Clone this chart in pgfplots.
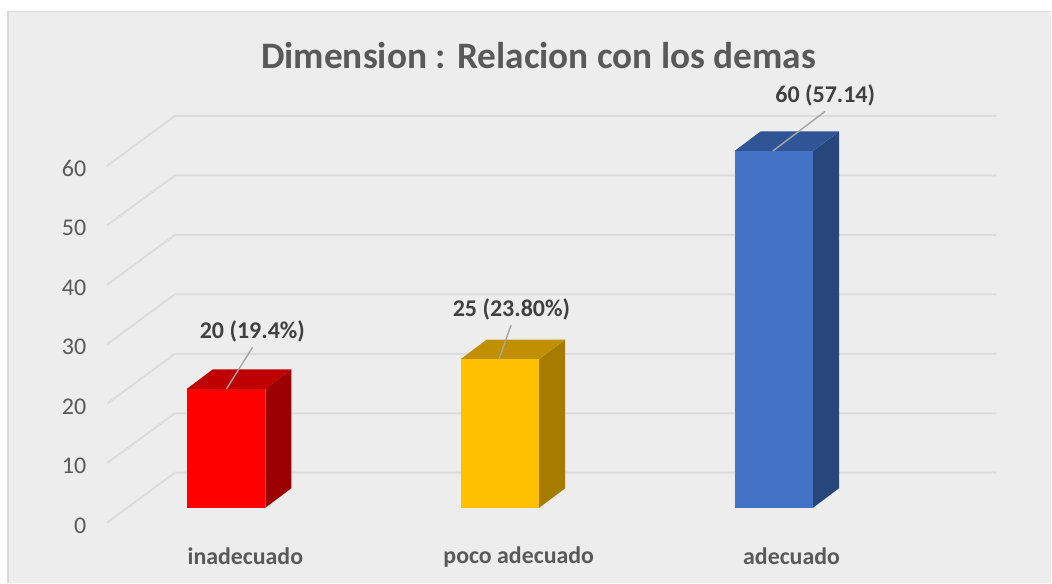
\documentclass[border=0pt]{standalone}
\usepackage{fontspec}
\setmainfont{Carlito}
\usepackage{pgfplots}
\pgfplotsset{compat=1.18}
\definecolor{panel}{HTML}{EDEDED}
\definecolor{frame}{HTML}{D9D9D9}
\definecolor{gridc}{HTML}{DCDCDC}
\definecolor{txt}{HTML}{595959}
\definecolor{lab}{HTML}{404040}
\definecolor{lead}{HTML}{A6A6A6}
\definecolor{redF}{HTML}{FF0000}
\definecolor{redT}{HTML}{BF0000}
\definecolor{redS}{HTML}{9C0000}
\definecolor{yelF}{HTML}{FFC000}
\definecolor{yelT}{HTML}{C09000}
\definecolor{yelS}{HTML}{A67C00}
\definecolor{bluF}{HTML}{4472C4}
\definecolor{bluT}{HTML}{2F5597}
\definecolor{bluS}{HTML}{27467C}
\begin{document}
\begin{tikzpicture}[x=0.75pt,y=0.75pt]
\fill[white] (0,0) rectangle (1052,583);
\fill[panel] (8,0) rectangle (1052,571.5);
\draw[frame,line width=1.5pt] (8,0) -- (8,571.5);
\draw[frame,line width=0.9pt] (8,571.5) -- (1052,571.5);
\begin{axis}[
  at={(80.25pt,45pt)},anchor=south west,
  scale only axis,width=667.5pt,height=267.75pt,
  xmin=107,xmax=997,ymin=0,ymax=60,clip=false,
  axis line style={draw=none},tick style={draw=none},
  ytick={0,10,20,30,40,50,60},
  xtick={245.5,519,792},
  xticklabels={inadecuado,poco adecuado,adecuado},
  /pgf/number format/assume math mode=true,
  yticklabel style={font=\fontsize{18}{20}\selectfont,text=txt,anchor=east,xshift=-12pt,yshift=-2.2pt},
  xticklabel style={font=\fontsize{17.9}{20}\selectfont\bfseries,text=txt,anchor=center,yshift=-25.5pt},
]
% gridlines
\addplot[gridc,line width=1.5pt] coordinates {(107,0)(175,8.4)(997,8.4)};
\addplot[gridc,line width=1.5pt] coordinates {(107,10)(175,18.4)(997,18.4)};
\addplot[gridc,line width=1.5pt] coordinates {(107,20)(175,28.4)(997,28.4)};
\addplot[gridc,line width=1.5pt] coordinates {(107,30)(175,38.4)(997,38.4)};
\addplot[gridc,line width=1.5pt] coordinates {(107,40)(175,48.4)(997,48.4)};
\addplot[gridc,line width=1.5pt] coordinates {(107,50)(175,58.4)(997,58.4)};
\addplot[gridc,line width=1.5pt] coordinates {(107,60)(175,68.4)(997,68.4)};
% inadecuado
\addplot[draw=none,fill=redS,yshift=11.2pt] coordinates {(265.5,0)(291.5,3.28)(291.5,23.28)(265.5,20)} --cycle;
\addplot[draw=none,fill=redT,yshift=11.2pt] coordinates {(187,20)(265.5,20)(291.5,23.28)(213,23.28)} --cycle;
\addplot[draw=none,fill=redF,yshift=11.2pt] coordinates {(187,0)(265.5,0)(265.5,20)(187,20)} --cycle;
% poco adecuado
\addplot[draw=none,fill=yelS,yshift=11.2pt] coordinates {(539.5,0)(565.5,3.28)(565.5,28.28)(539.5,25)} --cycle;
\addplot[draw=none,fill=yelT,yshift=11.2pt] coordinates {(461,25)(539.5,25)(565.5,28.28)(487,28.28)} --cycle;
\addplot[draw=none,fill=yelF,yshift=11.2pt] coordinates {(461,0)(539.5,0)(539.5,25)(461,25)} --cycle;
% adecuado
\addplot[draw=none,fill=bluS,yshift=11.2pt] coordinates {(813.5,0)(839.5,3.28)(839.5,63.28)(813.5,60)} --cycle;
\addplot[draw=none,fill=bluT,yshift=11.2pt] coordinates {(735,60)(813.5,60)(839.5,63.28)(761,63.28)} --cycle;
\addplot[draw=none,fill=bluF,yshift=11.2pt] coordinates {(735,0)(813.5,0)(813.5,60)(735,60)} --cycle;
% leader lines
\addplot[lead,line width=1.05pt,yshift=11.2pt] coordinates {(226.7,20)(252.7,27)};
\addplot[lead,line width=1.05pt,yshift=11.2pt] coordinates {(499.3,25)(511.3,30.7)};
\addplot[lead,line width=1.05pt,yshift=11.2pt] coordinates {(773.3,60)(825.7,66.67)};
% data labels
\node[font=\fontsize{18}{20}\selectfont\bfseries,text=lab] at (axis cs:252.5,32.1) {20 (19.4\%)};
\node[font=\fontsize{18}{20}\selectfont\bfseries,text=lab] at (axis cs:511.7,35.9) {25 (23.80\%)};
\node[font=\fontsize{18}{20}\selectfont\bfseries,text=lab] at (axis cs:825.7,71.8) {60 (57.14)};
\node[font=\fontsize{28}{32}\selectfont\bfseries,text=txt] at (axis cs:539,78.5) {Dimension : Relacion con los demas};
\end{axis}
\end{tikzpicture}
\end{document}
